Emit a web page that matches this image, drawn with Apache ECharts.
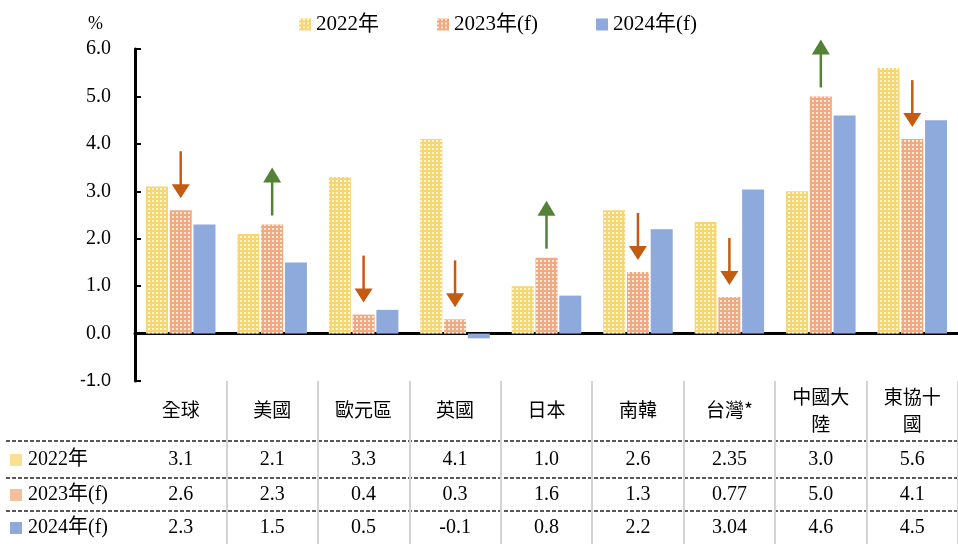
<!DOCTYPE html>
<html>
<head>
<meta charset="utf-8">
<script src="https://cdn.jsdelivr.net/npm/echarts@6/dist/echarts.min.js"></script>
<style>
  html, body { margin: 0; padding: 0; background: #fff; }
  #chart { width: 958px; height: 544px; }
</style>
</head>
<body>
<div id="chart"></div>
<script>
// data
var regions = ['全球', '美國', '歐元區', '英國', '日本', '南韓', '台灣*', '中國大陸', '東協十國'];
var seriesNames = ['2022年', '2023年(f)', '2024年(f)'];
var growth2022 = [3.1, 2.1, 3.3, 4.1, 1.0, 2.6, 2.35, 3.0, 5.6];
var growth2023 = [2.6, 2.3, 0.4, 0.3, 1.6, 1.3, 0.77, 5.0, 4.1];
var growth2024 = [2.3, 1.5, 0.5, -0.1, 0.8, 2.2, 3.04, 4.6, 4.5];
// 2023 forecast revision: 1 = up, -1 = down
var revision2023 = [-1, 1, -1, -1, 1, -1, -1, 1, -1];
var yTicks = [-1, 0, 1, 2, 3, 4, 5, 6];

var colors = ['#F9D56E', '#F2A97E', '#8EA9DB'];
var serif = "'Liberation Serif', 'Noto Sans CJK TC', serif";
var cjk = "'Noto Sans CJK TC', sans-serif";

var chart = echarts.init(document.getElementById('chart'));

function fmt(v) {
  var r = Math.round(v * 10) / 10;
  return Math.abs(r - v) < 1e-9 ? v.toFixed(1) : String(v);
}

var dots = {
  symbol: 'rect',
  symbolSize: 0.9,
  color: 'rgba(255,255,255,0.85)',
  dashArrayX: [2, 2],
  dashArrayY: [2, 2],
  rotation: 0
};

// rows of the table under the chart
function rowAxis(values, margin, header) {
  return {
    type: 'category',
    gridIndex: 1,
    position: 'top',
    data: regions,
    axisLine: { show: false, onZero: false },
    axisTick: { show: false },
    splitLine: header
      ? { show: true, showMinLine: false, lineStyle: { color: '#D3D3D3', width: 2 } }
      : { show: false },
    axisLabel: {
      inside: true,
      margin: margin,
      verticalAlign: 'middle',
      interval: 0,
      color: '#000',
      fontSize: header ? 19 : 20,
      fontFamily: header ? cjk : serif,
      lineHeight: 27,
      formatter: function (v, i) {
        if (header) return v.length > 3 ? v.slice(0, 3) + '\n' + v.slice(3) : v;
        return fmt(values[i]);
      }
    }
  };
}

var rowY = [460, 495, 528];
var lineY = [441, 478, 511];
var graphic = [];
lineY.forEach(function (y) {
  graphic.push({
    type: 'line', silent: true,
    shape: { x1: 6, y1: y, x2: 958, y2: y },
    style: { stroke: '#222', lineWidth: 1.5, lineDash: [4, 2] }
  });
});
seriesNames.forEach(function (n, i) {
  graphic.push({
    type: 'rect', silent: true,
    shape: { x: 10, y: rowY[i] - 6, width: 12, height: 12 },
    style: { fill: colors[i], opacity: i < 2 ? 0.75 : 1 }
  });
  graphic.push({
    type: 'text', silent: true,
    x: 28, y: rowY[i],
    style: { text: n, fill: '#000', font: '20px ' + serif, verticalAlign: 'middle' }
  });
});

var option = {
  animation: false,
  legend: {
    data: seriesNames,
    top: 9,
    left: 294,
    itemWidth: 12,
    itemHeight: 12,
    itemGap: 58,
    icon: 'rect',
    textStyle: { color: '#000', fontSize: 21, fontFamily: serif }
  },
  grid: [
    { left: 135, top: 49, width: 832, height: 332 },
    { left: 135, top: 381, width: 832, bottom: 0 }
  ],
  xAxis: [
    {
      type: 'category',
      gridIndex: 0,
      data: regions,
      axisLine: { onZero: true, lineStyle: { color: '#000', width: 3 } },
      axisTick: { show: false },
      axisLabel: { show: false }
    },
    rowAxis(null, 29, true),
    rowAxis(growth2022, 79, false),
    rowAxis(growth2023, 114, false),
    rowAxis(growth2024, 147, false)
  ],
  yAxis: [
    {
      type: 'value',
      gridIndex: 0,
      min: yTicks[0],
      max: yTicks[yTicks.length - 1],
      interval: 1,
      name: '%',
      nameGap: 16,
      nameTextStyle: { color: '#000', fontSize: 18, fontFamily: serif, align: 'right', padding: [0, 32, 0, 0] },
      axisLine: { show: true, lineStyle: { color: '#000', width: 3 } },
      axisTick: { show: true, inside: true, length: 6, lineStyle: { color: '#000', width: 2 } },
      splitLine: { show: false },
      axisLabel: {
        margin: 24,
        color: '#000',
        fontSize: 20,
        fontFamily: serif,
        formatter: function (v) {
          return v < 0 ? '{neg|' + v.toFixed(1) + '}' : v.toFixed(1);
        },
        rich: { neg: { fontFamily: "'Liberation Sans', sans-serif", fontSize: 18, color: '#000' } }
      }
    },
    { type: 'value', gridIndex: 1, min: 0, max: 1, show: false }
  ],
  series: [
    {
      name: seriesNames[0], type: 'bar', data: growth2022,
      barWidth: 22, barGap: '8%',
      itemStyle: { color: colors[0], decal: dots }
    },
    {
      name: seriesNames[1], type: 'bar', data: growth2023,
      barWidth: 22, barGap: '8%',
      itemStyle: { color: colors[1], decal: dots }
    },
    {
      name: seriesNames[2], type: 'bar', data: growth2024,
      barWidth: 22, barGap: '8%',
      itemStyle: { color: colors[2] }
    },
    {
      // revision arrows above the 2023 bars
      name: 'revision',
      type: 'custom',
      silent: true,
      z: 5,
      data: regions.map(function (r, i) { return [i, growth2023[i], revision2023[i]]; }),
      renderItem: function (params, api) {
        var p = api.coord([api.value(0), api.value(1)]);
        var x = p[0], y = p[1];
        var up = api.value(2) > 0;
        var color = up ? '#548235' : '#C55A11';
        var shaft, head;
        if (up) {
          shaft = { x1: x, y1: y - 43, x2: x, y2: y - 9 };
          head = [[x - 9, y - 42], [x + 9, y - 42], [x, y - 57]];
        } else {
          shaft = { x1: x, y1: y - 59, x2: x, y2: y - 25 };
          head = [[x - 9, y - 26], [x + 9, y - 26], [x, y - 12]];
        }
        return {
          type: 'group',
          children: [
            { type: 'line', shape: shaft, style: { stroke: color, lineWidth: 2.5 } },
            { type: 'polygon', shape: { points: head }, style: { fill: color } }
          ]
        };
      }
    }
  ],
  graphic: graphic
};

chart.setOption(option);
</script>
</body>
</html>
